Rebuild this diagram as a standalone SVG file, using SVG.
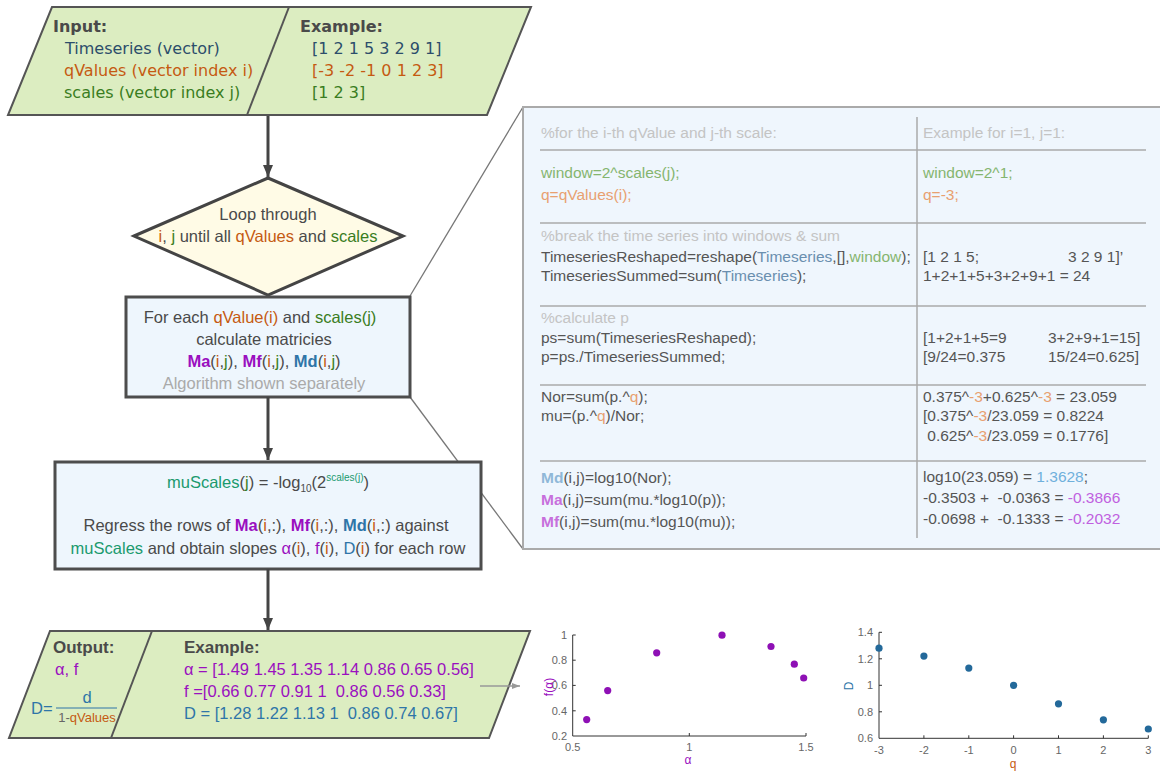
<svg xmlns="http://www.w3.org/2000/svg" width="1160" height="772" viewBox="0 0 1160 772">
<defs>
<marker id="ah" viewBox="0 0 12 10" refX="12" refY="5" markerWidth="12" markerHeight="10" markerUnits="userSpaceOnUse" orient="auto"><path d="M0,0 L12,5 L0,10 z" fill="#444"/></marker>
<marker id="ahg" viewBox="0 0 8 6" refX="8" refY="3" markerWidth="8" markerHeight="6" markerUnits="userSpaceOnUse" orient="auto"><path d="M0,0 L8,3 L0,6 z" fill="#999"/></marker>
<style>
.io{fill:#dcedc1;stroke:#555;stroke-width:2}
.bx{fill:#eef6fd;stroke:#4d4d4d;stroke-width:3}
.dm{fill:#fffbe6;stroke:#444;stroke-width:3}
text{white-space:pre}
.t1{font-family:"DejaVu Sans",sans-serif;font-size:16px;fill:#4a4a4a}
.t2{font-family:"Liberation Sans",Arial,sans-serif;font-size:16.5px;fill:#4a4a4a}
.tp{font-family:"Liberation Sans",Arial,sans-serif;font-size:15.5px;fill:#555}
.ax{font-family:"Liberation Sans",Arial,sans-serif;font-size:11px;fill:#666}
.b{font-weight:bold}
.bl{fill:#2c4d6b}.or{fill:#c55a11}.gr{fill:#3a7d22}.pu{fill:#9a0fbf}.md{fill:#2e75a8}.te{fill:#1a9a6e}.lg{fill:#aaa}
.cm{fill:#c4c4c4}.lgr{fill:#85b56f}.lor{fill:#e8a070}.lbl{fill:#6a8faf}.lmd{fill:#8fb8d8}.lma{fill:#c770dc}.v1{fill:#6fb0dc}.v2{fill:#c060e0}
.sep{stroke:#aaa;stroke-width:1.5}
.axl{stroke:#333;stroke-width:1;fill:none}
</style>
</defs>
<g id="callout">
<line x1="410" y1="296" x2="523" y2="107" stroke="#777" stroke-width="1.3"/>
<line x1="410" y1="397" x2="523" y2="549" stroke="#777" stroke-width="1.3"/>
</g>
<g id="input">
<polygon class="io" points="52,7 531,7 487,115 8,115"/>
<line x1="289" y1="7" x2="247" y2="115" stroke="#555" stroke-width="2"/>
<text class="t1 b" x="53" y="32">Input:</text>
<text class="t1 bl" x="65" y="54">Timeseries (vector)</text>
<text class="t1 or" x="64" y="76">qValues (vector index i)</text>
<text class="t1 gr" x="64" y="98">scales (vector index j)</text>
<text class="t1 b" x="300" y="32">Example:</text>
<text class="t1 bl" x="312" y="54">[1 2 1 5 3 2 9 1]</text>
<text class="t1 or" x="312" y="76">[-3 -2 -1 0 1 2 3]</text>
<text class="t1 gr" x="312" y="98">[1 2 3]</text>
</g>
<g id="loop">
<polygon class="dm" points="134,236 268,178 403,236 268,295"/>
<text class="t2" x="268" y="220" text-anchor="middle">Loop through</text>
<text class="t2" x="268" y="242" text-anchor="middle"><tspan class="or">i</tspan>, <tspan class="gr">j</tspan> until all <tspan class="or">qValues</tspan> and <tspan class="gr">scales</tspan></text>
</g>
<g id="calc">
<rect class="bx" x="126" y="297" width="284" height="100"/>
<text class="t2" x="260" y="323" text-anchor="middle">For each <tspan class="or">qValue(i)</tspan> and <tspan class="gr">scales(j)</tspan></text>
<text class="t2" x="264" y="345" text-anchor="middle">calculate matricies</text>
<text class="t2" x="264" y="367" text-anchor="middle"><tspan class="pu b">Ma</tspan>(<tspan class="or">i</tspan>,<tspan class="gr">j</tspan>), <tspan class="pu b">Mf</tspan>(<tspan class="or">i</tspan>,<tspan class="gr">j</tspan>), <tspan class="md b">Md</tspan>(<tspan class="or">i</tspan>,<tspan class="gr">j</tspan>)</text>
<text class="t2 lg" x="264" y="389" text-anchor="middle">Algorithm shown separately</text>
</g>
<g id="regress">
<rect class="bx" x="55" y="462" width="426" height="107"/>
<text class="t2" x="268" y="488" text-anchor="middle"><tspan class="te">muScales</tspan>(<tspan class="gr">j</tspan>) = -log<tspan dy="4" font-size="10">10</tspan><tspan dy="-4">(2</tspan><tspan dy="-7" font-size="10" class="te">scales(j)</tspan><tspan dy="7">)</tspan></text>
<text class="t2" x="266" y="531" text-anchor="middle">Regress the rows of <tspan class="pu b">Ma</tspan>(<tspan class="or">i</tspan>,:), <tspan class="pu b">Mf</tspan>(<tspan class="or">i</tspan>,:), <tspan class="md b">Md</tspan>(<tspan class="or">i</tspan>,:) against</text>
<text class="t2" x="268" y="554" text-anchor="middle"><tspan class="te">muScales</tspan> and obtain slopes <tspan class="pu">α</tspan>(<tspan class="or">i</tspan>), <tspan class="pu">f</tspan>(<tspan class="or">i</tspan>), <tspan class="md">D</tspan>(<tspan class="or">i</tspan>) for each row</text>
</g>
<g id="output">
<polygon class="io" points="50,631 530,631 489,738 9,738"/>
<line x1="152" y1="631" x2="111" y2="738" stroke="#555" stroke-width="2"/>
<text class="t2 b" x="53" y="653" style="font-size:17px">Output:</text>
<text class="t2 pu" x="55" y="675">α, f</text>
<text class="t2 md" x="31" y="714">D=</text>
<text class="t2 md" x="87" y="703" text-anchor="middle">d</text>
<line x1="56" y1="708" x2="117" y2="708" stroke="#2e75a8" stroke-width="1"/>
<text class="t2" x="87" y="722" text-anchor="middle" style="font-size:13px"><tspan fill="#666">1-</tspan><tspan class="or">qValues</tspan></text>
<text class="t2 b" x="184" y="653" style="font-size:17px">Example:</text>
<text class="t2 pu" x="184" y="675">α = [1.49 1.45 1.35 1.14 0.86 0.65 0.56]</text>
<text class="t2 pu" x="184" y="697">f =[0.66 0.77 0.91 1  0.86 0.56 0.33]</text>
<text class="t2 md" x="184" y="719">D = [1.28 1.22 1.13 1  0.86 0.74 0.67]</text>
</g>
<g id="algorithm">
<rect x="523" y="107" width="660" height="442" fill="#eff6fd" stroke="#aaa" stroke-width="2"/>
<line class="sep" x1="917" y1="117" x2="917" y2="538"/>
<line class="sep" x1="540" y1="150" x2="1146" y2="150"/>
<line class="sep" x1="540" y1="223" x2="1146" y2="223"/>
<line class="sep" x1="540" y1="306" x2="1146" y2="306"/>
<line class="sep" x1="540" y1="385" x2="1146" y2="385"/>
<line class="sep" x1="540" y1="461" x2="1146" y2="461"/>
<text class="tp cm" x="541" y="138">%for the i-th qValue and j-th scale:</text>
<text class="tp cm" x="923" y="138">Example for i=1, j=1:</text>
<text class="tp lgr" x="541" y="178">window=2^scales(j);</text>
<text class="tp lor" x="541" y="200">q=qValues(i);</text>
<text class="tp lgr" x="923" y="178">window=2^1;</text>
<text class="tp lor" x="923" y="200">q=-3;</text>
<text class="tp cm" x="541" y="241">%break the time series into windows &amp; sum</text>
<text class="tp" x="541" y="262">TimeseriesReshaped=reshape(<tspan class="lbl">Timeseries</tspan>,[],<tspan class="lgr">window</tspan>);</text>
<text class="tp" x="541" y="281">TimeseriesSummed=sum(<tspan class="lbl">Timeseries</tspan>);</text>
<text class="tp" x="923" y="262">[1 2 1 5;</text>
<text class="tp" x="1068" y="262">3 2 9 1]’</text>
<text class="tp" x="923" y="281">1+2+1+5+3+2+9+1 = 24</text>
<text class="tp cm" x="541" y="323">%calculate p</text>
<text class="tp" x="541" y="343">ps=sum(TimeseriesReshaped);</text>
<text class="tp" x="541" y="362">p=ps./TimeseriesSummed;</text>
<text class="tp" x="923" y="343">[1+2+1+5=9</text>
<text class="tp" x="1048" y="343">3+2+9+1=15]</text>
<text class="tp" x="923" y="362">[9/24=0.375</text>
<text class="tp" x="1048" y="362">15/24=0.625]</text>
<text class="tp" x="541" y="402">Nor=sum(p.^<tspan class="lor">q</tspan>);</text>
<text class="tp" x="541" y="421">mu=(p.^<tspan class="lor">q</tspan>)/Nor;</text>
<text class="tp" x="923" y="402">0.375^<tspan class="lor">-3</tspan>+0.625^<tspan class="lor">-3</tspan> = 23.059</text>
<text class="tp" x="923" y="421">[0.375^<tspan class="lor">-3</tspan>/23.059 = 0.8224</text>
<text class="tp" x="923" y="441"> 0.625^<tspan class="lor">-3</tspan>/23.059 = 0.1776]</text>
<text class="tp" x="541" y="483"><tspan class="lmd b">Md</tspan>(i,j)=log10(Nor);</text>
<text class="tp" x="541" y="505"><tspan class="lma b">Ma</tspan>(i,j)=sum(mu.*log10(p));</text>
<text class="tp" x="541" y="527"><tspan class="lma b">Mf</tspan>(i,j)=sum(mu.*log10(mu));</text>
<text class="tp" x="923" y="482">log10(23.059) = <tspan class="v1">1.3628</tspan>;</text>
<text class="tp" x="923" y="503">-0.3503 +  -0.0363 = <tspan class="v2">-0.3866</tspan></text>
<text class="tp" x="923" y="524">-0.0698 +  -0.1333 = <tspan class="v2">-0.2032</tspan></text>
</g>
<g id="plot-f-alpha">
<path class="axl" d="M572.7,635 V736 H806"/>
<path class="axl" d="M572.7,635 h3 M572.7,660.2 h3 M572.7,685.4 h3 M572.7,710.8 h3 M689.3,736 v-3 M806,736 v-3"/>
<text class="ax" x="567" y="639" text-anchor="end">1</text>
<text class="ax" x="567" y="664" text-anchor="end">0.8</text>
<text class="ax" x="567" y="689" text-anchor="end">0.6</text>
<text class="ax" x="567" y="715" text-anchor="end">0.4</text>
<text class="ax" x="567" y="740" text-anchor="end">0.2</text>
<text class="ax" x="572.7" y="751" text-anchor="middle">0.5</text>
<text class="ax" x="689.3" y="751" text-anchor="middle">1</text>
<text class="ax" x="806" y="751" text-anchor="middle">1.5</text>
<text class="ax pu" x="688" y="764" text-anchor="middle" style="font-size:12px">α</text>
<text class="ax pu" x="0" y="0" text-anchor="middle" style="font-size:12px" transform="translate(553,687) rotate(-90)">f(α)</text>
<g fill="#8e10b5">
<circle cx="803.7" cy="678" r="3.6"/><circle cx="794.3" cy="664.2" r="3.6"/><circle cx="771" cy="646.5" r="3.6"/><circle cx="722" cy="635.2" r="3.6"/><circle cx="656.7" cy="652.8" r="3.6"/><circle cx="607.7" cy="690.6" r="3.6"/><circle cx="586.7" cy="719.6" r="3.6"/>
</g>
</g>
<g id="plot-d-q">
<path class="axl" d="M879,632.3 V738.3 H1148.3"/>
<path class="axl" d="M879,632.3 h3 M879,658.8 h3 M879,685.3 h3 M879,711.8 h3 M923.9,738.3 v-3 M968.8,738.3 v-3 M1013.6,738.3 v-3 M1058.5,738.3 v-3 M1103.4,738.3 v-3 M1148.3,738.3 v-3"/>
<text class="ax" x="873" y="636" text-anchor="end">1.4</text>
<text class="ax" x="873" y="663" text-anchor="end">1.2</text>
<text class="ax" x="873" y="689" text-anchor="end">1</text>
<text class="ax" x="873" y="716" text-anchor="end">0.8</text>
<text class="ax" x="873" y="742" text-anchor="end">0.6</text>
<text class="ax" x="879" y="754" text-anchor="middle">-3</text>
<text class="ax" x="923.9" y="754" text-anchor="middle">-2</text>
<text class="ax" x="968.8" y="754" text-anchor="middle">-1</text>
<text class="ax" x="1013.6" y="754" text-anchor="middle">0</text>
<text class="ax" x="1058.5" y="754" text-anchor="middle">1</text>
<text class="ax" x="1103.4" y="754" text-anchor="middle">2</text>
<text class="ax" x="1148.3" y="754" text-anchor="middle">3</text>
<text class="ax or" x="1013" y="768" text-anchor="middle" style="font-size:12px">q</text>
<text class="ax md" x="0" y="0" text-anchor="middle" style="font-size:12px" transform="translate(853,686) rotate(-90)">D</text>
<g fill="#23699a">
<circle cx="879" cy="648.2" r="3.6"/><circle cx="923.9" cy="656.1" r="3.6"/><circle cx="968.8" cy="668.1" r="3.6"/><circle cx="1013.6" cy="685.3" r="3.6"/><circle cx="1058.5" cy="703.8" r="3.6"/><circle cx="1103.4" cy="719.8" r="3.6"/><circle cx="1148.3" cy="729" r="3.6"/>
</g>
</g>
<g id="connectors">
<line x1="268" y1="116" x2="268" y2="177" stroke="#444" stroke-width="3" marker-end="url(#ah)"/>
<line x1="268" y1="397" x2="268" y2="460" stroke="#444" stroke-width="3" marker-end="url(#ah)"/>
<line x1="268" y1="569" x2="268" y2="630" stroke="#444" stroke-width="3" marker-end="url(#ah)"/>
<line x1="480" y1="686" x2="520" y2="686" stroke="#999" stroke-width="1.3" marker-end="url(#ahg)"/>
</g>
</svg>
